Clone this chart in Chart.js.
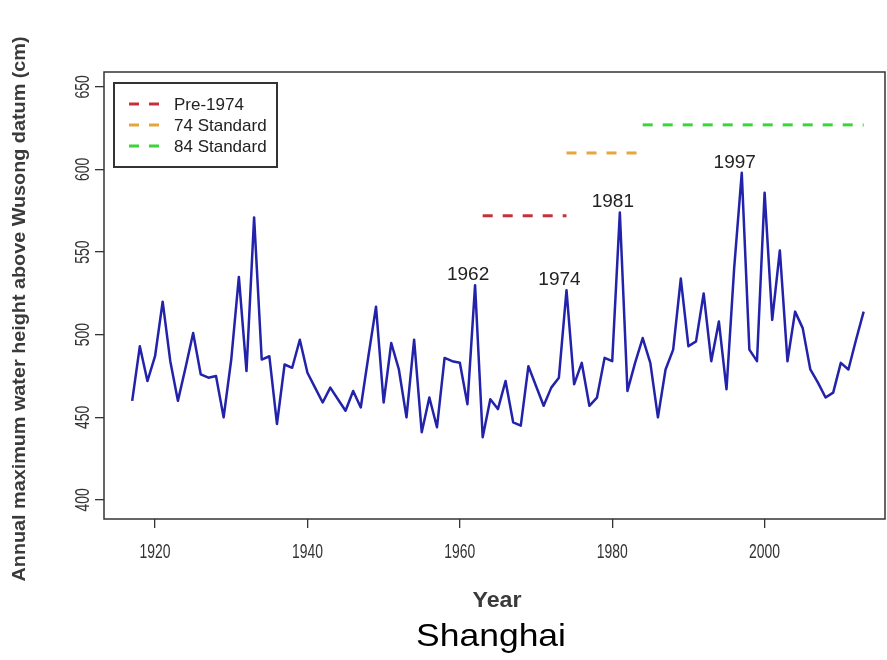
<!DOCTYPE html>
<html>
<head>
<meta charset="utf-8">
<title>Shanghai - annual maximum water height</title>
<script src="https://cdn.jsdelivr.net/npm/chart.js@4.4.0/dist/chart.umd.min.js"></script>
<style>
  html, body { margin: 0; padding: 0; background: #fff; }
  #wrap { width: 887px; height: 660px; }
</style>
</head>
<body>
<div id="wrap"><canvas id="myCanvas"></canvas></div>
<script>
// annual maximum water height above Wusong datum (cm), Shanghai
const years = [
  1917, 1918, 1919, 1920, 1921, 1922, 1923, 1924, 1925, 1926,
  1927, 1928, 1929, 1930, 1931, 1932, 1933, 1934, 1935, 1936,
  1937, 1938, 1939, 1940, 1941, 1942, 1943, 1944, 1945, 1946,
  1947, 1948, 1949, 1950, 1951, 1952, 1953, 1954, 1955, 1956,
  1957, 1958, 1959, 1960, 1961, 1962, 1963, 1964, 1965, 1966,
  1967, 1968, 1969, 1970, 1971, 1972, 1973, 1974, 1975, 1976,
  1977, 1978, 1979, 1980, 1981, 1982, 1983, 1984, 1985, 1986,
  1987, 1988, 1989, 1990, 1991, 1992, 1993, 1994, 1995, 1996,
  1997, 1998, 1999, 2000, 2001, 2002, 2003, 2004, 2005, 2006,
  2007, 2008, 2009, 2010, 2011, 2012, 2013
];
const waterLevel = [
  460, 493, 472, 487, 520, 484, 460, 480, 501, 476,
  474, 475, 450, 485, 535, 478, 571, 485, 487, 446,
  482, 480, 497, 477, 468, 459, 468, 461, 454, 466,
  456, 487, 517, 459, 495, 479, 450, 497, 441, 462,
  444, 486, 484, 483, 458, 530, 438, 461, 455, 472,
  447, 445, 481, 469, 457, 468, 474, 527, 470, 483,
  457, 462, 486, 484, 574, 466, 483, 498, 483, 450,
  479, 491, 534, 493, 496, 525, 484, 508, 467, 540,
  598, 491, 484, 586, 509, 551, 484, 514, 504, 479,
  471, 462, 465, 483, 479, 497, 514
];

// design standards (dashed lines)
const standardNames = ['Pre-1974', '74 Standard', '84 Standard'];
const standardLevels = [572, 610, 627];
const standardStart = [1963, 1974, 1984];
const standardEnd = [1974, 1984, 2013];
const standardColors = ['#c5303a', '#e6a53d', '#3bd43b'];

const peakYears = [1962, 1974, 1981, 1997];
const xTicks = [1920, 1940, 1960, 1980, 2000];
const yTicks = [400, 450, 500, 550, 600, 650];

const FONT = "'Liberation Sans', Arial, sans-serif";
const INK = '#333';

// draws text squeezed/stretched along its own direction
function drawText(ctx, text, x, y, sx, angle) {
  ctx.save();
  ctx.translate(x, y);
  ctx.rotate(angle || 0);
  ctx.scale(sx, 1);
  ctx.fillText(text, 0, 0);
  ctx.restore();
}

const decorations = {
  id: 'decorations',
  afterDraw(chart) {
    const ctx = chart.ctx;
    const area = chart.chartArea;
    const xs = chart.scales.x;
    const ys = chart.scales.y;

    // plot frame
    ctx.save();
    ctx.strokeStyle = INK;
    ctx.lineWidth = 1.5;
    ctx.strokeRect(area.left, area.top, area.right - area.left, area.bottom - area.top);

    // tick labels (narrow, like the R device font)
    ctx.fillStyle = INK;
    ctx.font = '20px ' + FONT;
    ctx.textAlign = 'center';
    ctx.textBaseline = 'middle';
    const sq = 31 / ctx.measureText('1920').width;
    xTicks.forEach(v => drawText(ctx, String(v), xs.getPixelForValue(v), 552, sq, 0));
    yTicks.forEach(v => drawText(ctx, String(v), 83, ys.getPixelForValue(v), sq, -Math.PI / 2));

    // axis titles
    ctx.fillStyle = '#3a3a3a';
    ctx.font = 'bold 19px ' + FONT;
    const yTitle = 'Annual maximum water height above Wusong datum (cm)';
    drawText(ctx, yTitle, 20, 309, 545 / ctx.measureText(yTitle).width, -Math.PI / 2);
    ctx.font = 'bold 22px ' + FONT;
    drawText(ctx, 'Year', 497, 601, 49 / ctx.measureText('Year').width, 0);

    ctx.fillStyle = '#000';
    ctx.font = '32px ' + FONT;
    drawText(ctx, 'Shanghai', 491, 637, 150 / ctx.measureText('Shanghai').width, 0);

    // peak year labels
    ctx.fillStyle = '#222';
    ctx.font = '19px ' + FONT;
    ctx.textBaseline = 'alphabetic';
    peakYears.forEach(yr => {
      const v = waterLevel[years.indexOf(yr)];
      drawText(ctx, String(yr), xs.getPixelForValue(yr) - 7, ys.getPixelForValue(v) - 5, 1, 0);
    });

    // legend box
    ctx.strokeStyle = INK;
    ctx.lineWidth = 2;
    ctx.strokeRect(114, 83, 163, 84);
    ctx.font = '17px ' + FONT;
    ctx.textAlign = 'left';
    ctx.textBaseline = 'middle';
    standardNames.forEach((name, i) => {
      const ly = 104 + i * 21;
      ctx.strokeStyle = standardColors[i];
      ctx.lineWidth = 3;
      ctx.setLineDash([10, 10]);
      ctx.beginPath();
      ctx.moveTo(129, ly);
      ctx.lineTo(159, ly);
      ctx.stroke();
      ctx.setLineDash([]);
      ctx.fillStyle = '#222';
      ctx.fillText(name, 174, ly + 1);
    });
    ctx.restore();
  }
};

const datasets = [{
  label: 'Shanghai',
  data: years.map((yr, i) => ({ x: yr, y: waterLevel[i] })),
  borderColor: '#2222aa',
  borderWidth: 2.5,
  borderJoinStyle: 'round',
  pointRadius: 0,
  tension: 0
}];
standardNames.forEach((name, i) => {
  datasets.push({
    label: name,
    data: [
      { x: standardStart[i], y: standardLevels[i] },
      { x: standardEnd[i], y: standardLevels[i] }
    ],
    borderColor: standardColors[i],
    borderWidth: 3,
    borderDash: [10, 10],
    pointRadius: 0
  });
});

const canvas = document.getElementById('myCanvas');
new Chart(canvas, {
  type: 'line',
  data: { datasets: datasets },
  options: {
    responsive: true,
    maintainAspectRatio: false,
    animation: false,
    devicePixelRatio: 1,
    layout: { padding: { top: 72, right: 2, left: 0, bottom: 0 } },
    plugins: {
      legend: { display: false },
      tooltip: { enabled: false }
    },
    scales: {
      x: {
        type: 'linear',
        min: 1913.3,
        max: 2015.8,
        afterBuildTicks: s => { s.ticks = xTicks.map(v => ({ value: v })); },
        afterFit: s => { s.height = 141; },
        ticks: { display: false },
        border: { display: false },
        grid: { drawOnChartArea: false, drawTicks: true, tickLength: 9, color: INK, lineWidth: 1.3 }
      },
      y: {
        min: 388.5,
        max: 659,
        afterBuildTicks: s => { s.ticks = yTicks.map(v => ({ value: v })); },
        afterFit: s => { s.width = 104; },
        ticks: { display: false },
        border: { display: false },
        grid: { drawOnChartArea: false, drawTicks: true, tickLength: 9, color: INK, lineWidth: 1.3 }
      }
    }
  },
  plugins: [decorations]
});
</script>
</body>
</html>
